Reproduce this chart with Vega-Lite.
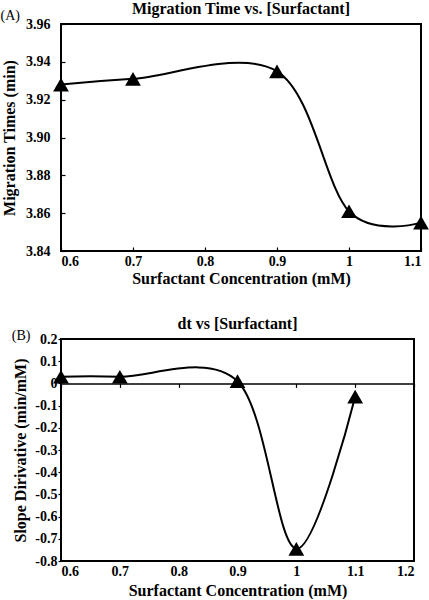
{
  "$schema": "https://vega.github.io/schema/vega-lite/v6.json",
  "background": "white",
  "padding": {"left": 0, "top": 0, "right": 4, "bottom": 0},
  "spacing": 28,
  "config": {
    "font": "Liberation Serif",
    "view": {"stroke": "black", "strokeWidth": 2},
    "axis": {
      "labelFont": "Liberation Serif",
      "labelFontWeight": "bold",
      "labelFontSize": 14,
      "labelColor": "black",
      "titleFont": "Liberation Serif",
      "titleFontWeight": "bold",
      "titleFontSize": 16,
      "titleColor": "black",
      "grid": false,
      "domain": false,
      "tickColor": "black",
      "tickWidth": 1.2
    },
    "title": {"font": "Liberation Serif", "fontWeight": "bold", "fontSize": 16, "color": "black"}
  },
  "datasets": {
    "a": [
      {"conc": 0.6, "time": 3.928},
      {"conc": 0.7, "time": 3.931},
      {"conc": 0.9, "time": 3.935},
      {"conc": 1.0, "time": 3.861},
      {"conc": 1.1, "time": 3.855}
    ],
    "b": [
      {"conc": 0.6, "slope": 0.03},
      {"conc": 0.7, "slope": 0.03},
      {"conc": 0.9, "slope": 0.01},
      {"conc": 1.0, "slope": -0.745},
      {"conc": 1.1, "slope": -0.06}
    ]
  },
  "vconcat": [
    {
      "title": {"text": "(A)", "anchor": "start", "fontWeight": "normal", "fontSize": 14, "offset": -23},
      "vconcat": [
        {
          "title": {"text": "Migration Time vs. [Surfactant]", "offset": 0},
          "width": 360,
          "height": 227,
          "data": {"name": "a"},
          "encoding": {
            "x": {
              "field": "conc", "type": "quantitative",
              "scale": {"domain": [0.6, 1.1], "nice": false, "zero": false},
              "axis": {"title": "Surfactant Concentration (mM)", "values": [0.6, 0.7, 0.8, 0.9, 1.0, 1.1], "format": "~g", "tickSize": -4, "labelPadding": 7, "titlePadding": 2}
            },
            "y": {
              "field": "time", "type": "quantitative",
              "scale": {"domain": [3.84, 3.96], "nice": false, "zero": false},
              "axis": {"title": "Migration Times (min)", "values": [3.84, 3.86, 3.88, 3.9, 3.92, 3.94, 3.96], "format": ".2f", "tickSize": -4, "labelPadding": 15, "titlePadding": 8}
            }
          },
          "layer": [
            {"mark": {"type": "line", "interpolate": "cardinal", "color": "black", "strokeWidth": 2, "clip": false}},
            {"mark": {"type": "point", "shape": "triangle-up", "filled": true, "color": "black", "opacity": 1, "size": 250, "clip": false}}
          ]
        }
      ]
    },
    {
      "title": {"text": "(B)", "anchor": "start", "fontWeight": "normal", "fontSize": 14, "offset": -28},
      "vconcat": [
        {
          "title": {"text": "dt vs [Surfactant]", "offset": 0},
          "width": 353,
          "height": 222,
          "data": {"name": "b"},
          "encoding": {
            "x": {
              "field": "conc", "type": "quantitative",
              "scale": {"domain": [0.6, 1.2], "nice": false, "zero": false}
            },
            "y": {
              "field": "slope", "type": "quantitative",
              "scale": {"domain": [-0.8, 0.2], "nice": false, "zero": false},
              "axis": {"title": "Slope Dirivative (min/mM)", "values": [-0.8, -0.7, -0.6, -0.5, -0.4, -0.3, -0.2, -0.1, 0, 0.1, 0.2], "labelExpr": "datum.value < -0.0001 ? '-' + format(-datum.value, '~g') : format(datum.value, '~g')", "tickSize": 3, "labelPadding": 1, "titlePadding": 6}
            }
          },
          "layer": [
            {
              "mark": {"type": "line", "interpolate": "cardinal", "color": "black", "strokeWidth": 2, "clip": false},
              "encoding": {
                "x": {"field": "conc", "type": "quantitative", "axis": {"title": "Surfactant Concentration (mM)", "values": [0.6, 0.7, 0.8, 0.9, 1.0, 1.1, 1.2], "format": "~g", "ticks": false, "labelPadding": 3, "titlePadding": 4}}
              }
            },
            {
              "mark": {"type": "point", "shape": "triangle-up", "filled": true, "color": "black", "opacity": 1, "size": 250, "clip": false},
              "encoding": {
                "x": {"field": "conc", "type": "quantitative", "axis": {"orient": "bottom", "offset": -177.6, "domain": true, "domainColor": "black", "domainWidth": 1.5, "labels": false, "title": null, "tickSize": 4, "values": [0.6, 0.7, 0.8, 0.9, 1.0, 1.1, 1.2]}}
              }
            }
          ],
          "resolve": {"axis": {"x": "independent"}}
        }
      ]
    }
  ]
}
